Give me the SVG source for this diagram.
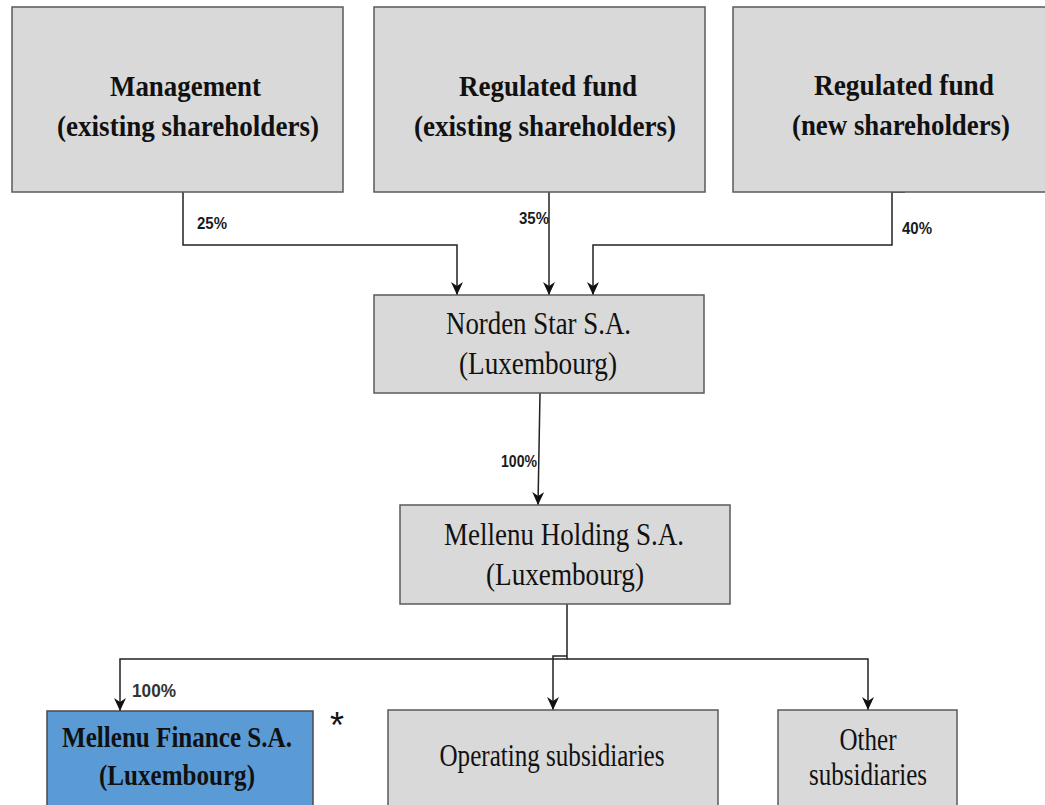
<svg xmlns="http://www.w3.org/2000/svg" width="1045" height="805" viewBox="0 0 1045 805">
<defs>
<style>
.box{fill:#d9d9d9;stroke:#5a5a5a;stroke-width:1.5}
.blue{fill:#5b9bd5;stroke:#4a4a4a;stroke-width:1.5}
.tb{font-family:"Liberation Serif","Times New Roman",serif;font-weight:bold;font-size:30px;fill:#111;text-anchor:middle}
.tr{font-family:"Liberation Serif","Times New Roman",serif;font-size:32px;fill:#111;text-anchor:middle}
.lbl{font-family:"Liberation Sans",Arial,sans-serif;font-weight:bold;font-size:16px;fill:#1a1a1a}
.con{fill:none;stroke:#222;stroke-width:1.5}
</style>
<marker id="arr" viewBox="0 0 13 12" refX="13" refY="6" markerWidth="13" markerHeight="12" markerUnits="userSpaceOnUse" orient="auto">
<path d="M0,0 L13,6 L0,12 L4,6 z" fill="#111"/>
</marker>
</defs>
<rect width="1045" height="805" fill="#fff"/>

<g id="connectors">
<path class="con" d="M183,192 V245 H457 V295" marker-end="url(#arr)"/>
<path class="con" d="M549,192 V295" marker-end="url(#arr)"/>
<path class="con" d="M905,192 H892 V245 H593 V295" marker-end="url(#arr)"/>
<path class="con" d="M540,393 L538,505" marker-end="url(#arr)"/>
<path class="con" d="M567,604 V659 H120 V711" marker-end="url(#arr)"/>
<path class="con" d="M567,659 H868 V710" marker-end="url(#arr)"/>
<path class="con" d="M567,656 H553 V710" marker-end="url(#arr)"/>
<text class="lbl" x="197" y="229" textLength="30" lengthAdjust="spacingAndGlyphs">25%</text>
<text class="lbl" x="519" y="224" textLength="30" lengthAdjust="spacingAndGlyphs">35%</text>
<text class="lbl" x="902" y="234" textLength="30" lengthAdjust="spacingAndGlyphs">40%</text>
<text class="lbl" x="501" y="467" textLength="36" lengthAdjust="spacingAndGlyphs">100%</text>
<text class="lbl" x="132" y="697" textLength="44" lengthAdjust="spacingAndGlyphs" style="font-size:18px;fill:#333">100%</text>
</g>

<g id="management">
<rect class="box" x="12" y="7" width="331" height="185"/>
<text class="tb" x="185.5" y="96" textLength="151" lengthAdjust="spacingAndGlyphs">Management</text>
<text class="tb" x="188" y="136" textLength="262" lengthAdjust="spacingAndGlyphs">(existing shareholders)</text>
</g>

<g id="fund-existing">
<rect class="box" x="374" y="7" width="331" height="185"/>
<text class="tb" x="548" y="96" textLength="178" lengthAdjust="spacingAndGlyphs">Regulated fund</text>
<text class="tb" x="545" y="136" textLength="262" lengthAdjust="spacingAndGlyphs">(existing shareholders)</text>
</g>

<g id="fund-new">
<rect class="box" x="733" y="7" width="320" height="185"/>
<text class="tb" x="904" y="95" textLength="180" lengthAdjust="spacingAndGlyphs">Regulated fund</text>
<text class="tb" x="901" y="135" textLength="218" lengthAdjust="spacingAndGlyphs">(new shareholders)</text>
</g>

<g id="norden-star">
<rect class="box" x="374" y="295" width="330" height="98"/>
<text class="tr" x="538.5" y="334" textLength="185" lengthAdjust="spacingAndGlyphs">Norden Star S.A.</text>
<text class="tr" x="538" y="374" textLength="158" lengthAdjust="spacingAndGlyphs">(Luxembourg)</text>
</g>

<g id="mellenu-holding">
<rect class="box" x="400" y="505" width="330" height="99"/>
<text class="tr" x="564" y="545" textLength="240" lengthAdjust="spacingAndGlyphs">Mellenu Holding S.A.</text>
<text class="tr" x="565" y="585" textLength="158" lengthAdjust="spacingAndGlyphs">(Luxembourg)</text>
</g>

<g id="mellenu-finance">
<rect class="blue" x="47" y="711" width="266" height="110"/>
<text class="tb" x="177" y="747" textLength="230" lengthAdjust="spacingAndGlyphs" style="font-size:29px">Mellenu Finance S.A.</text>
<text class="tb" x="177" y="785" textLength="156" lengthAdjust="spacingAndGlyphs" style="font-size:29px">(Luxembourg)</text>
</g>
<g id="asterisk">
<text x="337" y="738" style="font-family:'Liberation Sans',Arial,sans-serif;font-size:36px;fill:#111;text-anchor:middle">*</text>
</g>

<g id="operating-subsidiaries">
<rect class="box" x="388" y="710" width="330" height="110"/>
<text class="tr" x="552" y="766" textLength="225" lengthAdjust="spacingAndGlyphs">Operating subsidiaries</text>
</g>

<g id="other-subsidiaries">
<rect class="box" x="778" y="710" width="179" height="110"/>
<text class="tr" x="868" y="750" textLength="57" lengthAdjust="spacingAndGlyphs">Other</text>
<text class="tr" x="868" y="785" textLength="118" lengthAdjust="spacingAndGlyphs">subsidiaries</text>
</g>
</svg>
